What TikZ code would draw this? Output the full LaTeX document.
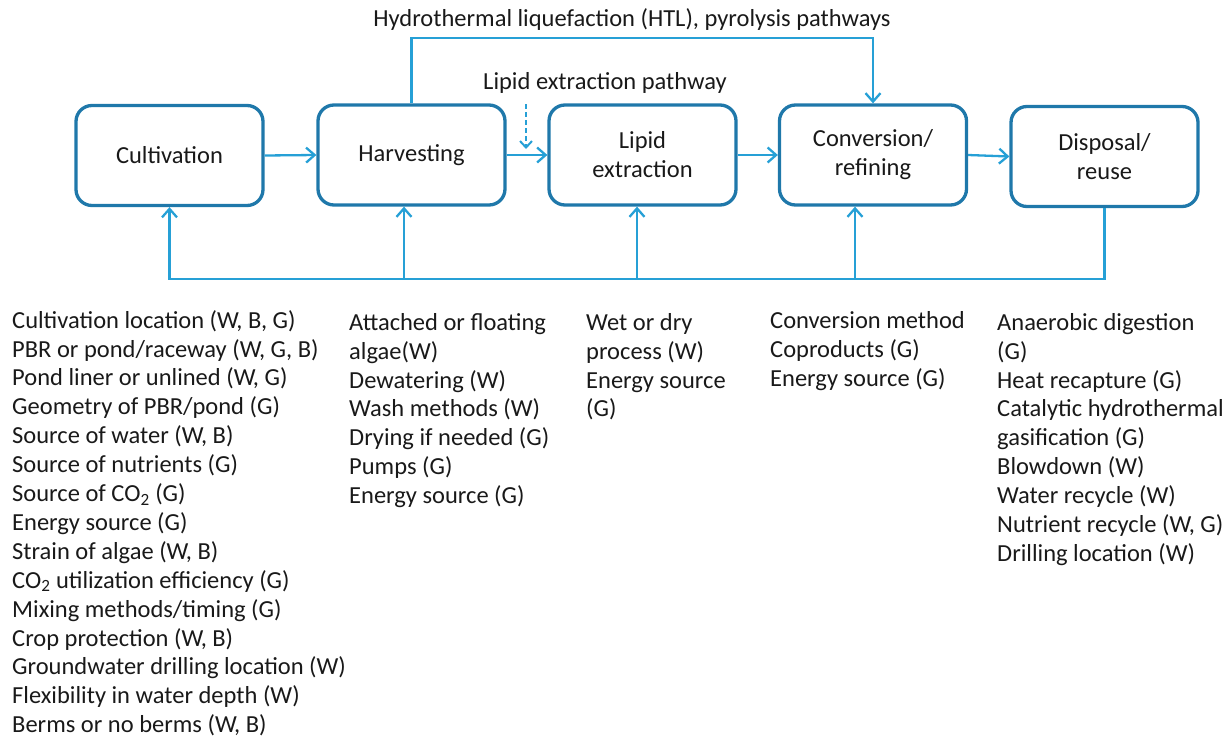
\documentclass[tikz,border=0pt]{standalone}
\usepackage{fontspec}
\setmainfont{Carlito}
\usetikzlibrary{arrows.meta}
\definecolor{boxc}{RGB}{31,120,170}
\definecolor{linec}{RGB}{38,160,214}
\definecolor{txt}{RGB}{25,25,25}
\begin{document}
\begin{tikzpicture}[x=1pt,y=-1pt,
  font=\fontsize{24.5}{28.9}\selectfont, text=txt,
  stage/.style={draw=boxc, line width=3.3pt, rounded corners=16pt,
    minimum width=187pt, minimum height=100pt, align=center, inner sep=0pt},
  flow/.style={draw=linec, line width=2.3pt,
    -{Straight Barb[length=8.5pt,width=15pt,line width=2.3pt]}},
  dflow/.style={draw=linec, line width=2pt, dash pattern=on 5pt off 3pt,
    -{Straight Barb[length=6.5pt,width=12pt,line width=2pt]}},
  lst/.style={anchor=north west, align=left, inner sep=0pt}]
\useasboundingbox (0,0) rectangle (1225,744);

% stages
\node[stage] (cult)  at (169.5,155.5) {Cultivation};
\node[stage] (harv)  at (411.5,155)   {Harvesting};
\node[stage] (lipid) at (642.5,155)   {Lipid\\extraction};
\node[stage] (conv)  at (873,155)     {Conversion/\\refining};
\node[stage] (disp)  at (1104.5,156.5){Disposal/\\reuse};

% labels
\node (htl) at (632,20) {Hydrothermal liquefaction (HTL), pyrolysis pathways};
\node (lep) at (605,83) {Lipid extraction pathway};

% main flow
\draw[flow] (cult.east) -- (harv.west);
\draw[flow] (harv.east) -- (lipid.west);
\draw[flow] (lipid.east) -- (conv.west);
\draw[flow] (conv.east) -- (disp.west);

% HTL bypass
\coordinate (htlR) at (873,38);
\draw[flow] (harv.north) |- (htlR) -- (conv.north);

% lipid extraction pathway (dashed)
\coordinate (dA) at (526,104);
\coordinate (dB) at (526,149);
\draw[dflow] (dA) -- (dB);

% feedback
\coordinate (fbR) at (1104.5,279);
\coordinate (fbL) at (169.5,279);
\coordinate (fbH) at (404,279);
\coordinate (fbLi) at (637,279);
\coordinate (fbC) at (855,279);
\draw[flow] (disp.south) -- (fbR) -- (fbL) -- (cult.south);
\draw[flow] (fbH) -- (fbH |- harv.south);
\draw[flow] (fbLi) -- (fbLi |- lipid.south);
\draw[flow] (fbC) -- (fbC |- conv.south);

% lists
\node[lst] (l1) at (12,310) {Cultivation location (W, B, G)\\
PBR or pond/raceway (W, G, B)\\
Pond liner or unlined (W, G)\\
Geometry of PBR/pond (G)\\
Source of water (W, B)\\
Source of nutrients (G)\\
Source of CO\textsubscript{2} (G)\\
Energy source (G)\\
Strain of algae (W, B)\\
CO\textsubscript{2} utilization efficiency (G)\\
Mixing methods/timing (G)\\
Crop protection (W, B)\\
Groundwater drilling location (W)\\
Flexibility in water depth (W)\\
Berms or no berms (W, B)};

\node[lst] (l2) at (349,313) {Attached or floating\\
algae(W)\\
Dewatering (W)\\
Wash methods (W)\\
Drying if needed (G)\\
Pumps (G)\\
Energy source (G)};

\node[lst] (l3) at (586,313) {Wet or dry\\
process (W)\\
Energy source\\
(G)};

\node[lst] (l4) at (770,311) {Conversion method\\
Coproducts (G)\\
Energy source (G)};

\node[lst] (l5) at (997,313) {Anaerobic digestion\\
(G)\\
Heat recapture (G)\\
Catalytic hydrothermal\\
gasification (G)\\
Blowdown (W)\\
Water recycle (W)\\
Nutrient recycle (W, G)\\
Drilling location (W)};
\end{tikzpicture}
\end{document}
